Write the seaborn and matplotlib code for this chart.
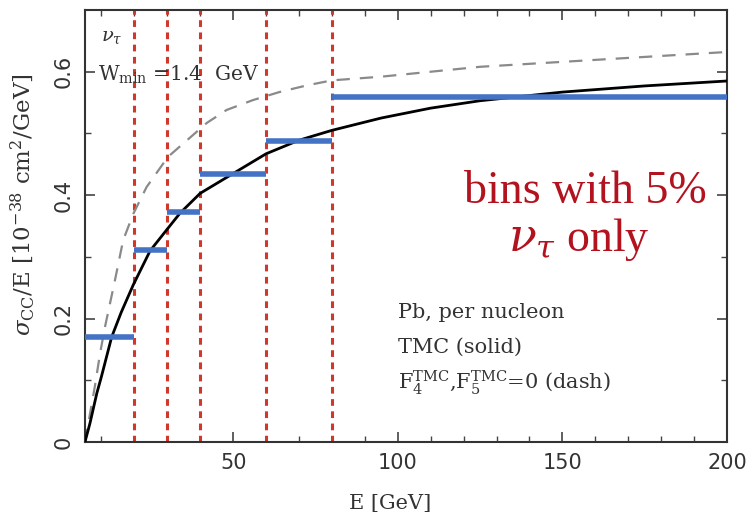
import pandas as pd
import numpy as np
import matplotlib
matplotlib.use('Agg')
import matplotlib.pyplot as plt
import seaborn as sns

# nilai
E_solid = [5, 6.5, 8.6, 10, 13.1, 16, 19.7, 24.8, 30.3, 33.9, 40, 50, 60, 70, 80, 95, 110, 125, 150, 175, 200]
sig_solid = [0, 0.03, 0.079, 0.106, 0.17, 0.21, 0.255, 0.31, 0.347, 0.371, 0.403, 0.435, 0.467, 0.489,
             0.505, 0.525, 0.541, 0.553, 0.567, 0.577, 0.585]

E_dash = [5, 6.5, 8, 9.6, 11.1, 14.1, 16.6, 19.7, 23.7, 30.2, 36, 42, 48, 56, 64, 72.5, 80, 95, 125, 150, 175, 200]
sig_dash = [0, 0.045, 0.09, 0.144, 0.187, 0.262, 0.327, 0.37, 0.413, 0.462, 0.489, 0.517, 0.538, 0.554,
            0.567, 0.578, 0.586, 0.592, 0.608, 0.616, 0.624, 0.632]

# batas bin dan nilai rata-rata tiap bin
bin_lo = [5, 20, 30, 40, 60, 80]
bin_hi = [20, 30, 40, 60, 80, 200]
bin_val = [0.17, 0.311, 0.372, 0.435, 0.488, 0.559]
bin_edges = [20, 30, 40, 60, 80]

solid = pd.DataFrame({'E': E_solid, 'sigma': sig_solid})
dash = pd.DataFrame({'E': E_dash, 'sigma': sig_dash})

sns.set_theme(style='ticks')
plt.rcParams['mathtext.fontset'] = 'dejavuserif'

fig = plt.figure(figsize=(7.5, 5.22), dpi=100)
ax = fig.add_axes([0.1133, 0.1533, 0.856, 0.8275])

for x in bin_edges:
    ax.axvline(x, color='#d0382c', lw=2.2, ls=(0, (2.2, 1.8)), zorder=1)

sns.lineplot(data=dash, x='E', y='sigma', ax=ax, color='#8a8a8a', lw=1.6,
             linestyle=(0, (6, 4.5)), zorder=2)
sns.lineplot(data=solid, x='E', y='sigma', ax=ax, color='black', lw=2.0, zorder=3)

ax.hlines(bin_val, bin_lo, bin_hi, colors='#4472c4', lw=4, zorder=4)

ax.set_xlim(5, 200)
ax.set_ylim(0, 0.7)
ax.set_xticks([50, 100, 150, 200])
ax.set_xticks(np.arange(10, 200, 10), minor=True)
ax.set_yticks([0, 0.2, 0.4, 0.6])
ax.set_yticklabels(['0', '0.2', '0.4', '0.6'])
ax.set_yticks([0.1, 0.3, 0.5], minor=True)
ax.tick_params(which='both', direction='in', top=True, right=True, color='#444444')
ax.tick_params(which='major', length=7, width=1.2, labelsize=15, colors='#444444')
ax.tick_params(which='minor', length=4, width=1.0)
ax.tick_params(axis='x', labelcolor='#333333', pad=8)
ax.tick_params(axis='y', labelcolor='#333333', labelrotation=90, pad=8)
for lab in ax.get_yticklabels():
    lab.set_va('center')
for s in ax.spines.values():
    s.set_linewidth(1.5)
    s.set_color('#333333')

ax.set_xlabel('E [GeV]', family='DejaVu Serif', fontsize=15, color='#333333', labelpad=12)
ax.xaxis.set_label_coords(0.475, -0.12)
ax.set_ylabel(r'$\sigma_{\rm CC}$/E [10$^{-38}$ cm$^2$/GeV]', family='DejaVu Serif',
              fontsize=16.5, color='#333333')
ax.yaxis.set_label_coords(-0.075, 0.55)

ax.text(0.025, 0.96, r'$\nu_\tau$', transform=ax.transAxes, fontsize=14, color='#333333', va='top')
ax.text(0.02, 0.85, r'W$_{\rm min}$ =1.4  GeV', transform=ax.transAxes, fontsize=14.5,
        family='DejaVu Serif', color='#333333', va='center')

ax.text(0.487, 0.30, 'Pb, per nucleon', transform=ax.transAxes, fontsize=15,
        family='DejaVu Serif', color='#333333', va='center')
ax.text(0.487, 0.22, 'TMC (solid)', transform=ax.transAxes, fontsize=15,
        family='DejaVu Serif', color='#333333', va='center')
ax.text(0.487, 0.137, r'F$_4^{\rm TMC}$,F$_5^{\rm TMC}$=0 (dash)', transform=ax.transAxes, fontsize=15,
        family='DejaVu Serif', color='#333333', va='center')

ax.text(0.779, 0.579, 'bins with 5%', transform=ax.transAxes, fontsize=33,
        family='Liberation Serif', color='#b3121f', ha='center', va='center')
ax.text(0.77, 0.468, r'$\nu_\tau$ only', transform=ax.transAxes, fontsize=33,
        family='Liberation Serif', color='#b3121f', ha='center', va='center')

fig.savefig('out.png', dpi=100)
